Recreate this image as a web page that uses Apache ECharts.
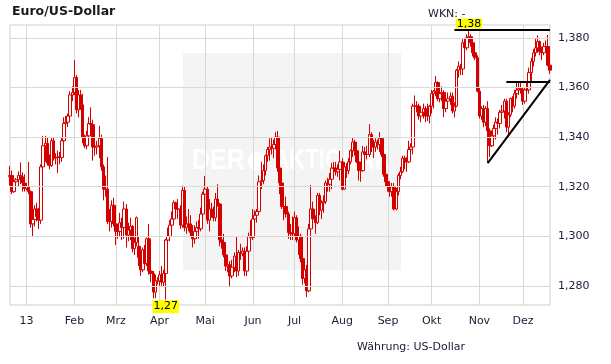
<!DOCTYPE html>
<html><head><meta charset="utf-8">
<script src="https://cdn.jsdelivr.net/npm/echarts@6.0.0/dist/echarts.min.js"></script>
<style>html,body{margin:0;padding:0;background:#fff}#c{width:611px;height:364px}</style>
</head><body><div id="c"></div>
<script>
// Daily candles: [open, close, low, high]
const dec12 = [[1.3240,1.3245,1.3205,1.3284],[1.3245,1.3180,1.3170,1.3265],[1.3180,1.3220,1.3175,1.3240],[1.3220,1.3228,1.3212,1.3235],[1.3228,1.3245,1.3200,1.3262],[1.3245,1.3240,1.3210,1.3298],[1.3240,1.3215,1.3180,1.3258],[1.3215,1.3192,1.3180,1.3250]];
const jan13 = [[1.3192,1.3200,1.3185,1.3215],[1.3200,1.3180,1.3170,1.3300],[1.3180,1.3050,1.3035,1.3185],[1.3050,1.3068,1.2998,1.3085],[1.3068,1.3110,1.3040,1.3125],[1.3110,1.3080,1.3060,1.3135],[1.3080,1.3065,1.3030,1.3115],[1.3065,1.3280,1.3050,1.3290],[1.3280,1.3365,1.3250,1.3405],[1.3365,1.3375,1.3300,1.3405],[1.3375,1.3295,1.3285,1.3400],[1.3295,1.3285,1.3270,1.3330],[1.3285,1.3385,1.3280,1.3400],[1.3385,1.3315,1.3305,1.3400],[1.3315,1.3318,1.3290,1.3335],[1.3318,1.3320,1.3255,1.3345],[1.3320,1.3318,1.3290,1.3340],[1.3318,1.3385,1.3300,1.3400],[1.3385,1.3455,1.3375,1.3480],[1.3455,1.3460,1.3420,1.3485],[1.3460,1.3485,1.3440,1.3495],[1.3485,1.3570,1.3480,1.3585],[1.3570,1.3580,1.3545,1.3605]];
const feb13 = [[1.3580,1.3640,1.3570,1.3711],[1.3640,1.3510,1.3495,1.3650],[1.3510,1.3570,1.3480,1.3590],[1.3570,1.3530,1.3510,1.3590],[1.3530,1.3400,1.3375,1.3575],[1.3400,1.3365,1.3355,1.3410],[1.3365,1.3405,1.3350,1.3425],[1.3405,1.3455,1.3370,1.3480],[1.3455,1.3450,1.3420,1.3520],[1.3450,1.3360,1.3305,1.3470],[1.3360,1.3360,1.3325,1.3400],[1.3360,1.3365,1.3330,1.3385],[1.3365,1.3395,1.3315,1.3445],[1.3395,1.3280,1.3265,1.3410],[1.3280,1.3190,1.3145,1.3290],[1.3190,1.3190,1.3160,1.3245],[1.3190,1.3060,1.3050,1.3320],[1.3060,1.3060,1.3020,1.3110],[1.3060,1.3125,1.3035,1.3145],[1.3125,1.3050,1.3040,1.3155]];
const mar13 = [[1.3050,1.3020,1.2965,1.3065],[1.3020,1.3020,1.2990,1.3045],[1.3020,1.3055,1.3000,1.3095],[1.3055,1.3035,1.2985,1.3075],[1.3035,1.3110,1.2990,1.3140],[1.3110,1.3005,1.2955,1.3130],[1.3005,1.3025,1.2980,1.3055],[1.3025,1.3040,1.2985,1.3075],[1.3040,1.2950,1.2935,1.3045],[1.2950,1.2975,1.2925,1.2995],[1.2975,1.3075,1.2960,1.3080],[1.2960,1.2915,1.2880,1.3000],[1.2915,1.2865,1.2840,1.2960],[1.2865,1.2945,1.2855,1.2955],[1.2945,1.2890,1.2870,1.2965],[1.2890,1.2990,1.2880,1.2995],[1.2990,1.2860,1.2845,1.3050],[1.2860,1.2850,1.2815,1.2885],[1.2850,1.2775,1.2750,1.2860],[1.2775,1.2820,1.2750,1.2845],[1.2820,1.2820,1.2805,1.2835]];
const apr13 = [[1.2820,1.2845,1.2800,1.2860],[1.2845,1.2815,1.2800,1.2880],[1.2815,1.2850,1.2795,1.2865],[1.2850,1.2985,1.2745,1.2990],[1.2985,1.3000,1.2860,1.3035],[1.3000,1.3045,1.2980,1.3065],[1.3045,1.3070,1.3015,1.3100],[1.3070,1.3135,1.3055,1.3145],[1.3135,1.3110,1.3090,1.3140],[1.3110,1.3110,1.3070,1.3150],[1.3110,1.3045,1.3030,1.3125],[1.3045,1.3185,1.3035,1.3205],[1.3185,1.3035,1.3020,1.3200],[1.3035,1.3050,1.3010,1.3080],[1.3050,1.3050,1.3020,1.3110],[1.3050,1.3015,1.3000,1.3085],[1.3015,1.2990,1.2955,1.3045],[1.2990,1.3020,1.2970,1.3045],[1.3020,1.3035,1.2990,1.3060],[1.3035,1.3030,1.2990,1.3065],[1.3030,1.3090,1.3020,1.3115],[1.3090,1.3170,1.3065,1.3180]];
const may13 = [[1.3170,1.3190,1.3140,1.3243],[1.3190,1.3065,1.3050,1.3200],[1.3065,1.3110,1.3020,1.3150],[1.3110,1.3090,1.3075,1.3135],[1.3090,1.3075,1.3060,1.3120],[1.3075,1.3150,1.3060,1.3175],[1.3150,1.3130,1.3120,1.3210],[1.3130,1.2985,1.2960,1.3135],[1.2985,1.2975,1.2950,1.3010],[1.2975,1.2925,1.2915,1.3010],[1.2925,1.2880,1.2860,1.2945],[1.2880,1.2885,1.2855,1.2910],[1.2885,1.2840,1.2795,1.2900],[1.2840,1.2875,1.2830,1.2905],[1.2875,1.2920,1.2855,1.2935],[1.2920,1.2860,1.2835,1.3000],[1.2860,1.2935,1.2840,1.2945],[1.2935,1.2930,1.2905,1.2970],[1.2930,1.2940,1.2920,1.2955],[1.2940,1.2860,1.2840,1.2955],[1.2860,1.2940,1.2840,1.2960],[1.2940,1.3000,1.2920,1.3015],[1.3000,1.2995,1.2975,1.3065]];
const jun13 = [[1.2995,1.3070,1.2985,1.3110],[1.3070,1.3085,1.3025,1.3105],[1.3085,1.3100,1.3055,1.3110],[1.3100,1.3220,1.3090,1.3245],[1.3220,1.3225,1.3190,1.3300],[1.3225,1.3265,1.3210,1.3290],[1.3265,1.3325,1.3245,1.3330],[1.3325,1.3350,1.3300,1.3360],[1.3350,1.3360,1.3305,1.3395],[1.3360,1.3355,1.3330,1.3400],[1.3355,1.3370,1.3315,1.3390],[1.3370,1.3400,1.3350,1.3420],[1.3400,1.3275,1.3260,1.3425],[1.3275,1.3215,1.3170,1.3280],[1.3215,1.3120,1.3110,1.3245],[1.3120,1.3120,1.3065,1.3190],[1.3120,1.3090,1.3075,1.3160],[1.3090,1.3015,1.2990,1.3100],[1.3015,1.3010,1.2985,1.3050],[1.3010,1.3010,1.2985,1.3080]];
const jul13 = [[1.3010,1.3075,1.3000,1.3100],[1.3075,1.2985,1.2975,1.3085],[1.2985,1.3000,1.2925,1.3040],[1.3000,1.2910,1.2895,1.3010],[1.2910,1.2830,1.2805,1.2925],[1.2830,1.2865,1.2810,1.2885],[1.2865,1.2780,1.2755,1.2885],[1.2780,1.3030,1.2775,1.3050],[1.3030,1.3110,1.2995,1.3207],[1.3110,1.3070,1.3035,1.3140],[1.3070,1.3055,1.3010,1.3085],[1.3055,1.3165,1.3050,1.3175],[1.3165,1.3105,1.3085,1.3175],[1.3105,1.3135,1.3070,1.3145],[1.3135,1.3140,1.3095,1.3165],[1.3140,1.3215,1.3130,1.3225],[1.3215,1.3210,1.3180,1.3235],[1.3210,1.3230,1.3180,1.3255],[1.3230,1.3275,1.3190,1.3295],[1.3275,1.3275,1.3250,1.3300],[1.3275,1.3260,1.3245,1.3300],[1.3260,1.3270,1.3240,1.3290],[1.3270,1.3300,1.3225,1.3345]];
const aug13 = [[1.3300,1.3190,1.3185,1.3315],[1.3190,1.3280,1.3190,1.3300],[1.3280,1.3265,1.3235,1.3295],[1.3265,1.3300,1.3250,1.3315],[1.3300,1.3345,1.3290,1.3350],[1.3345,1.3380,1.3320,1.3400],[1.3380,1.3345,1.3325,1.3390],[1.3345,1.3300,1.3295,1.3355],[1.3300,1.3265,1.3225,1.3310],[1.3265,1.3265,1.3220,1.3285],[1.3265,1.3340,1.3260,1.3365],[1.3340,1.3330,1.3310,1.3360],[1.3330,1.3330,1.3310,1.3365],[1.3330,1.3410,1.3320,1.3452],[1.3410,1.3360,1.3340,1.3420],[1.3360,1.3360,1.3315,1.3390],[1.3360,1.3380,1.3340,1.3395],[1.3380,1.3370,1.3350,1.3390],[1.3370,1.3395,1.3340,1.3420],[1.3395,1.3330,1.3320,1.3395],[1.3330,1.3250,1.3240,1.3335],[1.3250,1.3220,1.3200,1.3265]];
const sep13 = [[1.3220,1.3200,1.3180,1.3230],[1.3200,1.3180,1.3160,1.3220],[1.3180,1.3200,1.3160,1.3215],[1.3200,1.3110,1.3105,1.3215],[1.3110,1.3180,1.3105,1.3195],[1.3180,1.3245,1.3165,1.3255],[1.3245,1.3260,1.3230,1.3280],[1.3260,1.3315,1.3255,1.3325],[1.3315,1.3300,1.3270,1.3325],[1.3300,1.3300,1.3260,1.3320],[1.3300,1.3350,1.3295,1.3385],[1.3350,1.3360,1.3330,1.3375],[1.3360,1.3525,1.3330,1.3535],[1.3525,1.3525,1.3495,1.3568],[1.3525,1.3525,1.3500,1.3545],[1.3525,1.3485,1.3470,1.3535],[1.3485,1.3500,1.3460,1.3515],[1.3500,1.3515,1.3475,1.3535],[1.3515,1.3485,1.3460,1.3525],[1.3485,1.3485,1.3465,1.3535],[1.3485,1.3525,1.3455,1.3530]];
const oct13 = [[1.3525,1.3575,1.3495,1.3590],[1.3575,1.3585,1.3515,1.3590],[1.3585,1.3620,1.3565,1.3646],[1.3620,1.3555,1.3545,1.3625],[1.3555,1.3575,1.3540,1.3600],[1.3575,1.3580,1.3545,1.3605],[1.3580,1.3515,1.3480,1.3590],[1.3515,1.3545,1.3500,1.3570],[1.3545,1.3555,1.3515,1.3580],[1.3555,1.3565,1.3530,1.3580],[1.3565,1.3505,1.3495,1.3580],[1.3505,1.3525,1.3480,1.3540],[1.3525,1.3670,1.3520,1.3675],[1.3670,1.3685,1.3640,1.3705],[1.3685,1.3675,1.3650,1.3695],[1.3675,1.3780,1.3650,1.3795],[1.3780,1.3760,1.3735,1.3800],[1.3760,1.3800,1.3750,1.3815],[1.3800,1.3805,1.3775,1.3832],[1.3805,1.3780,1.3765,1.3815],[1.3780,1.3740,1.3725,1.3795],[1.3740,1.3720,1.3710,1.3780],[1.3720,1.3585,1.3580,1.3730]];
const nov13 = [[1.3585,1.3485,1.3475,1.3600],[1.3485,1.3515,1.3470,1.3525],[1.3515,1.3460,1.3440,1.3530],[1.3460,1.3515,1.3445,1.3525],[1.3515,1.3425,1.3295,1.3545],[1.3425,1.3365,1.3320,1.3435],[1.3365,1.3405,1.3360,1.3425],[1.3405,1.3435,1.3365,1.3450],[1.3435,1.3460,1.3390,1.3480],[1.3460,1.3455,1.3410,1.3475],[1.3455,1.3500,1.3435,1.3510],[1.3500,1.3505,1.3485,1.3530],[1.3505,1.3545,1.3475,1.3555],[1.3545,1.3440,1.3420,1.3555],[1.3440,1.3490,1.3400,1.3500],[1.3490,1.3555,1.3480,1.3560],[1.3555,1.3525,1.3500,1.3565],[1.3525,1.3575,1.3515,1.3590],[1.3575,1.3590,1.3555,1.3620],[1.3590,1.3595,1.3570,1.3622],[1.3595,1.3590,1.3575,1.3620]];
const dec13 = [[1.3590,1.3545,1.3530,1.3600],[1.3545,1.3590,1.3535,1.3600],[1.3590,1.3590,1.3545,1.3620],[1.3590,1.3660,1.3575,1.3680],[1.3660,1.3705,1.3620,1.3720],[1.3705,1.3740,1.3685,1.3755],[1.3740,1.3760,1.3725,1.3800],[1.3760,1.3785,1.3740,1.3810],[1.3785,1.3745,1.3730,1.3790],[1.3745,1.3740,1.3710,1.3765],[1.3740,1.3765,1.3730,1.3780],[1.3765,1.3765,1.3740,1.3790],[1.3765,1.3690,1.3685,1.3812],[1.3690,1.3670,1.3655,1.3700]];

const monthLabels = ['', '13', 'Feb', 'Mrz', 'Apr', 'Mai', 'Jun', 'Jul', 'Aug', 'Sep', 'Okt', 'Nov', 'Dez'];
const yTicks = [1.28, 1.30, 1.32, 1.34, 1.36, 1.38];
// annotations (category index, value)
const highPoint = [221, 1.3832], highText = '1,38';
const lowPoint = [75, 1.2745], lowText = '1,27';
const topLine = [[214, 1.3832], [260, 1.3832]];
const midLine = [[239, 1.3623], [260, 1.3623]];
const trendLine = [[230, 1.3295], [260, 1.3631]];

const segments = [dec12, jan13, feb13, mar13, apr13, may13, jun13, jul13, aug13, sep13, oct13, nov13, dec13];
const cats = [], ohlc = [], tickLabel = {};
segments.forEach((seg, k) => {
  seg.forEach((d, j) => {
    const idx = cats.length;
    cats.push('t' + idx);
    ohlc.push(d);
    if (j === 0 && monthLabels[k]) tickLabel[idx] = monthLabels[k];
  });
});
const C = (p) => ({ coord: [cats[p[0]], p[1]] });
const FONT = 'DejaVu Sans';
const TXT = '#20203a';
const RED = '#d40000';

const chart = echarts.init(document.getElementById('c'), null, { renderer: 'canvas' });
chart.setOption({
  animation: false,
  backgroundColor: '#fff',
  grid: { left: 10, right: 61, top: 25, bottom: 59, show: true, borderColor: '#cfcfcf', borderWidth: 1, backgroundColor: 'transparent' },
  xAxis: {
    type: 'category', data: cats, boundaryGap: false,
    axisLine: { show: false }, axisTick: { show: false },
    axisLabel: { interval: (i) => tickLabel[i] !== undefined, formatter: (v, i) => tickLabel[i] || '', color: TXT, fontFamily: FONT, fontSize: 11, margin: 11 },
    splitLine: { show: true, interval: (i) => tickLabel[i] !== undefined, lineStyle: { color: '#d9d9d9', width: 1 } }
  },
  yAxis: {
    type: 'value', min: 1.2723, max: 1.3852, scale: true,
    axisLine: { show: false }, axisTick: { show: false }, axisLabel: { show: false }, splitLine: { show: false }
  },
  graphic: [
    { type: 'rect', z: -10, shape: { x: 183, y: 53, width: 218, height: 217 }, style: { fill: '#f4f4f4' } },
    { type: 'text', z: -9, x: 192, y: 161, scaleY: 1.2, style: { text: 'DER', fill: '#ffffff', font: 'bold 25px "Liberation Sans"', verticalAlign: 'middle' } },
    { type: 'circle', z: -9, shape: { cx: 257.5, cy: 161, r: 9.5 }, style: { fill: '#ffffff' } },
    { type: 'text', z: -9, x: 273, y: 161, scaleY: 1.25, scaleX: 0.93, style: { text: 'AKTIONÄR', fill: '#ffffff', font: 'bold 24px "Liberation Sans"', verticalAlign: 'middle' } },
    { type: 'text', x: 12, y: 12, style: { text: 'Euro/US-Dollar', fill: '#1a1a1a', font: 'bold 12.5px "DejaVu Sans"', verticalAlign: 'middle' } },
    { type: 'text', x: 428, y: 14, style: { text: 'WKN: -', fill: TXT, font: '11px "DejaVu Sans"', verticalAlign: 'middle' } },
    { type: 'text', x: 357, y: 347, style: { text: 'Währung: US-Dollar', fill: TXT, font: '11px "DejaVu Sans"', verticalAlign: 'middle' } }
  ],
  series: [
    {
      type: 'line', data: [], z: 1, silent: true,
      markLine: {
        silent: true, symbol: ['none', 'none'], animation: false,
        lineStyle: { color: '#d9d9d9', width: 1, type: 'solid' },
        label: { show: true, position: 'end', distance: 8, color: TXT, fontFamily: FONT, fontSize: 11, formatter: (p) => p.value.toFixed(3).replace('.', ',') },
        data: yTicks.map((v) => ({ yAxis: v }))
      }
    },
    {
      type: 'candlestick', data: ohlc, z: 2, barWidth: 3,
      itemStyle: { color: '#ffffff', color0: RED, borderColor: RED, borderColor0: RED, borderColorDoji: RED, borderWidth: 1, opacity: 1 },
      markLine: {
        silent: true, symbol: ['none', 'none'], animation: false,
        lineStyle: { color: '#000', width: 2, type: 'solid' },
        label: { show: false },
        data: [[C(topLine[0]), C(topLine[1])], [C(midLine[0]), C(midLine[1])], [C(trendLine[0]), C(trendLine[1])]]
      },
      markPoint: {
        silent: true, animation: false, symbol: 'rect', symbolSize: 1, itemStyle: { color: 'transparent' },
        data: [
          Object.assign(C(highPoint), { label: { show: true, position: 'top', distance: 1, formatter: highText, backgroundColor: '#ffff00', color: '#000', fontFamily: FONT, fontSize: 11, lineHeight: 11, padding: [0, 1, -1, 1] } }),
          Object.assign(C(lowPoint), { label: { show: true, position: 'bottom', distance: 0, formatter: lowText, backgroundColor: '#ffff00', color: '#000', fontFamily: FONT, fontSize: 11, lineHeight: 13, padding: [0, 1] } })
        ]
      }
    }
  ]
});
</script></body></html>
